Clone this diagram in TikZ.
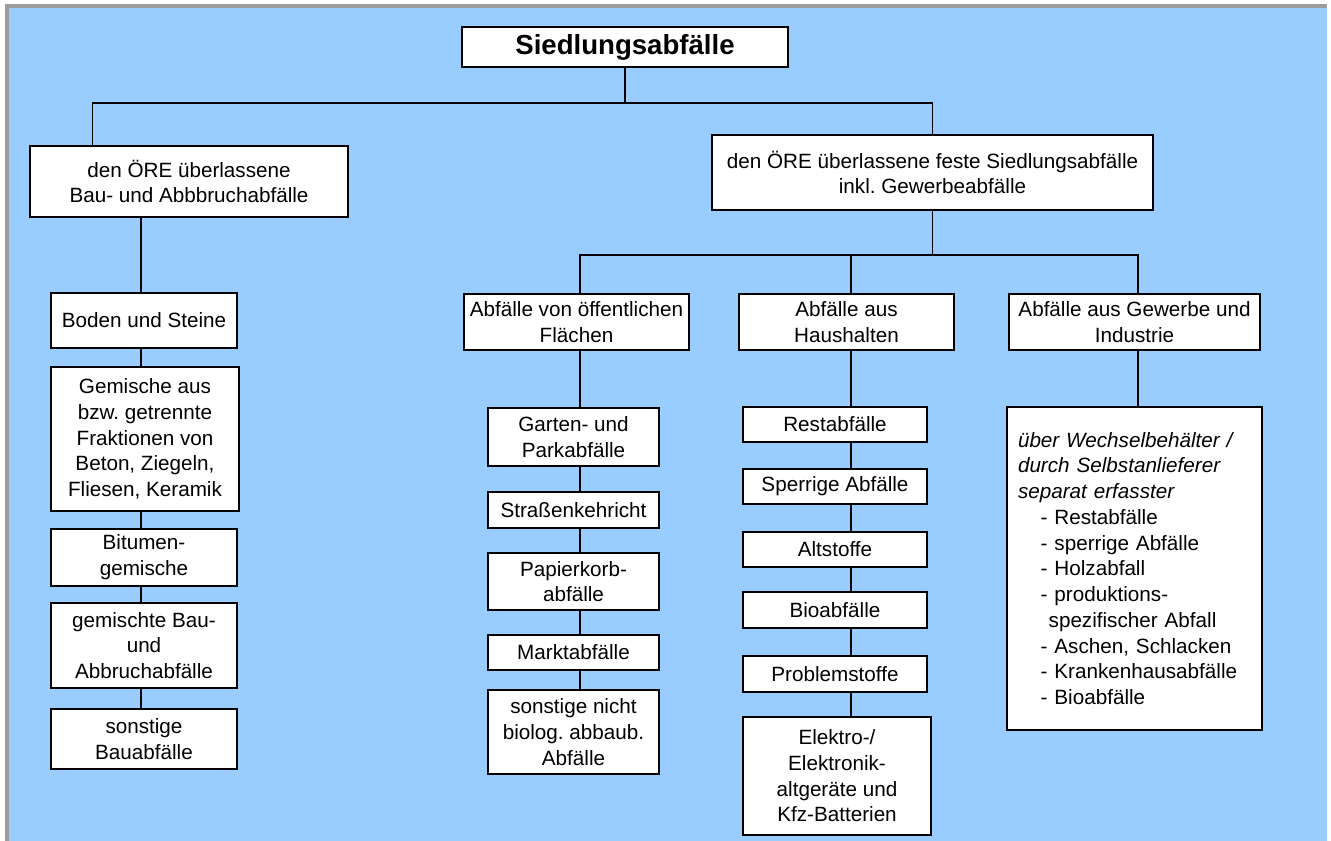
\documentclass[tikz,border=0pt]{standalone}
\usepackage{fontspec}
\setmainfont{Liberation Sans}
\usetikzlibrary{positioning}
\definecolor{skyfill}{HTML}{99CCFF}
\definecolor{framegray}{HTML}{9C9C9C}
\frenchspacing

\begin{document}
\begin{tikzpicture}[
    x=0.75pt, y=-0.75pt,
    every node/.style={font=\fontsize{15.5}{19.3}\selectfont},
    box/.style={rectangle, draw, line width=1pt, fill=white, inner sep=0pt, align=center},
    headbox/.style={box, font=\fontsize{20.7}{25}\selectfont\bfseries},
    wh/.style 2 args={minimum width=#1*0.75pt, minimum height=#2*0.75pt},
    link/.style={line width=1pt}
]

% ============ BACKGROUND ============
\fill[white] (0,0) rectangle (1331,841);
\fill[framegray] (5,4) rectangle (1327,841);
\fill[skyfill] (9,8) rectangle (1327,841);
\useasboundingbox (0,0) rectangle (1331,841);

% ============ TOP LEVELS ============
\node[headbox, wh={326}{40}] (siedlung) at (625,47) {Siedlungsabfälle};
\node[box, wh={318}{71}] (bau) at (189,181.5) {den ÖRE überlassene\\Bau- und Abbbruchabfälle};
\node[box, wh={441}{75}] (fest) at (932.5,172.5) {den ÖRE überlassene feste Siedlungsabfälle\\inkl. Gewerbeabfälle};

% ============ BAU- UND ABBRUCHABFAELLE (LEFT) ============
\node[box, wh={186}{55}] (boden) at (144,320.5) {Boden und Steine};
\node[box, wh={188}{144}] (gemische) at (145,439) {Gemische aus\\bzw. getrennte\\Fraktionen von\\Beton, Ziegeln,\\Fliesen, Keramik};
\node[box, wh={186}{57}] (bitumen) at (144,557.5) {Bitumen-\\gemische};
\node[box, wh={186}{85}] (gemischt) at (144,645.5) {gemischte Bau-\\und\\Abbruchabfälle};
\node[box, wh={186}{60}] (sonstbau) at (144,739) {sonstige\\Bauabfälle};

% ============ SIEDLUNGSABFAELLE (RIGHT) ============
\node[box, wh={225}{56}] (oeff) at (576.5,322) {Abfälle von öffentlichen\\Flächen};
\node[box, wh={215}{56}] (haus) at (846.5,322) {Abfälle aus\\Haushalten};
\node[box, wh={251}{56}] (gew) at (1134.5,322) {Abfälle aus Gewerbe und\\Industrie};

% public areas
\node[box, wh={171}{58}] (garten) at (573.5,437) {Garten- und\\Parkabfälle};
\node[box, wh={171}{36}] (strasse) at (573.5,510) {Straßenkehricht};
\node[box, wh={171}{57}] (papier) at (573.5,581.5) {Papierkorb-\\abfälle};
\node[box, wh={171}{35}] (markt) at (573.5,652.5) {Marktabfälle};
\node[box, wh={171}{84}] (sonstnicht) at (573.5,732) {sonstige nicht\\biolog. abbaub.\\Abfälle};

% households
\node[box, wh={184}{35}] (rest) at (835,424.5) {Restabfälle};
\node[box, wh={184}{35}] (sperr) at (835,486.5) {Sperrige Abfälle};
\node[box, wh={184}{35}] (alt) at (835,549.5) {Altstoffe};
\node[box, wh={184}{36}] (bio) at (835,610) {Bioabfälle};
\node[box, wh={184}{36}] (problem) at (835,674) {Problemstoffe};
\node[box, wh={188}{118}] (elektro) at (837,776) {Elektro-/\\Elektronik-\\altgeräte und\\Kfz-Batterien};

% trade and industry
\node[box, wh={255}{323}, align=left, text width=174.75pt] (liste) at (1134.5,568.5) {%
    \textit{über Wechselbehälter /}\\
    \textit{durch Selbstanlieferer}\\
    \textit{separat erfasster}\\
    \hspace*{17pt}- Restabfälle\\
    \hspace*{17pt}- sperrige Abfälle\\
    \hspace*{17pt}- Holzabfall\\
    \hspace*{17pt}- produktions-\\
    \hspace*{23pt}spezifischer Abfall\\
    \hspace*{17pt}- Aschen, Schlacken\\
    \hspace*{17pt}- Krankenhausabfälle\\
    \hspace*{17pt}- Bioabfälle};

% ============ CONNECTORS ============
\coordinate (bus1) at (0,103);
\coordinate (bus2) at (0,255);
\coordinate (spL) at (141,0);
\coordinate (spA) at (580,0);
\coordinate (spB) at (851,0);
\coordinate (spC) at (1138,0);

% first split
\draw[link] (siedlung.south) -- (siedlung.south |- bus1);
\draw[link] ([xshift=47.25pt]bau.north west) |- (fest.north |- bus1) -- (fest.north);

% second split
\draw[link] (fest.south) -- (fest.south |- bus2);
\draw[link] (oeff.north -| spA) |- (bus2 -| spC) -- (gew.north -| spC);
\draw[link] (haus.north -| spB) -- (bus2 -| spB);

% columns
\draw[link] (bau.south -| spL) -- (boden.north -| spL);
\foreach \a/\b in {boden/gemische, gemische/bitumen, bitumen/gemischt, gemischt/sonstbau}
    \draw[link] (\a.south -| spL) -- (\b.north -| spL);
\foreach \a/\b in {oeff/garten, garten/strasse, strasse/papier, papier/markt, markt/sonstnicht}
    \draw[link] (\a.south -| spA) -- (\b.north -| spA);
\foreach \a/\b in {haus/rest, rest/sperr, sperr/alt, alt/bio, bio/problem, problem/elektro}
    \draw[link] (\a.south -| spB) -- (\b.north -| spB);
\draw[link] (gew.south -| spC) -- (liste.north -| spC);

\end{tikzpicture}
\end{document}
